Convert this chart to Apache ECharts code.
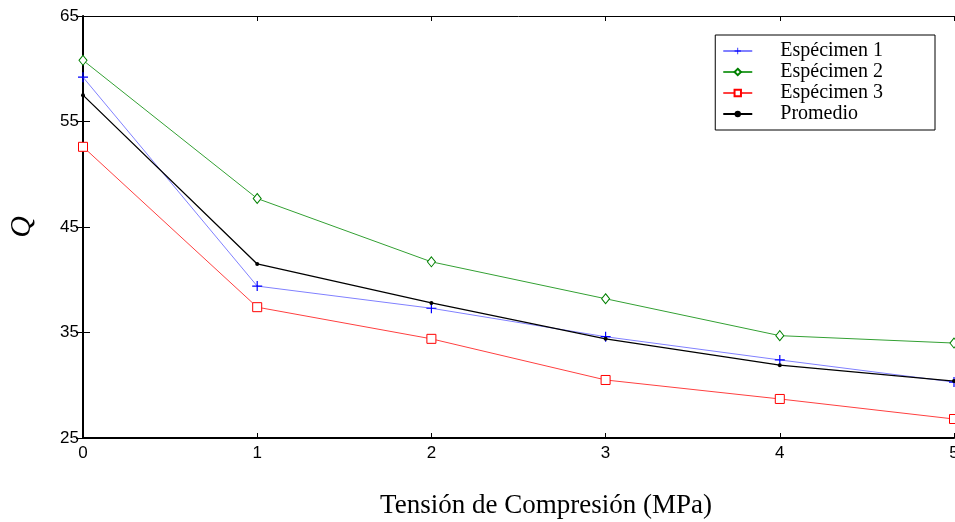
<!DOCTYPE html>
<html><head><meta charset="utf-8">
<script src="https://cdn.jsdelivr.net/npm/echarts@6/dist/echarts.min.js"></script>
<style>html,body{margin:0;padding:0;background:#fff}#c{width:955px;height:522px}</style>
</head><body><div id="c"></div>
<script>
const xValues = [0, 1, 2, 3, 4, 5];
const especimen1 = [59.2, 39.4, 37.3, 34.6, 32.4, 30.3];
const especimen2 = [60.8, 47.7, 41.7, 38.2, 34.7, 34.0];
const especimen3 = [52.6, 37.4, 34.4, 30.5, 28.7, 26.8];
const promedio = [57.5, 41.5, 37.8, 34.4, 31.9, 30.4];
const yTicks = [25, 35, 45, 55, 65];
const xTitle = 'Tensión de Compresión (MPa)';

const pair = arr => xValues.map((x, i) => [x, arr[i]]);
const plus = 'path://M-0.6,-5H0.6V-0.6H5V0.6H0.6V5H-0.6V0.6H-5V-0.6H-0.6Z';

const chart = echarts.init(document.getElementById('c'));
const axisLbl = {fontFamily: 'Liberation Sans, Arial', fontSize: 17, color: '#000'};
chart.setOption({
  animation: false,
  grid: {left: 83, right: 1, top: 16, bottom: 84, outerBoundsMode: 'none', containLabel: false},
  graphic: [{
    type: 'text', x: 546, y: 506,
    style: {text: xTitle, align: 'center', verticalAlign: 'middle',
            fontFamily: 'Liberation Serif, Times New Roman', fontSize: 27, fill: '#000'}
  }],
  legend: {
    right: 20, top: 35, orient: 'vertical', itemGap: 1,
    itemWidth: 29, itemHeight: 8,
    borderColor: '#000', borderWidth: 1, padding: [6, 52, 6, 7],
    backgroundColor: '#fff',
    textStyle: {fontFamily: 'Liberation Serif, Times New Roman', fontSize: 20, color: '#000', padding: [0, 0, 0, 23]},
    data: ['Espécimen 1', 'Espécimen 2', 'Espécimen 3', 'Promedio']
  },
  xAxis: [{
    type: 'value', min: 0, max: 5, interval: 1,
    axisLine: {lineStyle: {color: '#000', width: 2}},
    axisTick: {inside: true, length: 5, lineStyle: {color: '#000'}},
    axisLabel: Object.assign({margin: 7}, axisLbl),
    splitLine: {show: false}
  }, {
    type: 'value', min: 0, max: 5, interval: 1, position: 'top',
    axisLine: {show: true, lineStyle: {color: '#000', width: 1}},
    axisTick: {inside: true, length: 5, lineStyle: {color: '#000'}},
    axisLabel: {show: false}, splitLine: {show: false}
  }],
  yAxis: [{
    type: 'value', min: 25, max: 65, interval: 10,
    axisLine: {show: true, lineStyle: {color: '#000', width: 2}},
    axisTick: {inside: true, length: 7, lineStyle: {color: '#000'}},
    axisLabel: Object.assign({margin: 4, customValues: yTicks}, axisLbl),
    splitLine: {show: false},
    name: 'Q', nameLocation: 'middle', nameGap: 46, nameRotate: 90,
    nameTextStyle: {fontFamily: 'Liberation Serif, Times New Roman', fontSize: 30, fontStyle: 'italic', color: '#000'}
  }, {
    type: 'value', min: 25, max: 65, interval: 10, position: 'right',
    axisLine: {show: true, lineStyle: {color: '#000', width: 1}},
    axisTick: {inside: true, length: 7, lineStyle: {color: '#000'}},
    axisLabel: {show: false}, splitLine: {show: false}
  }],
  series: [
    {name: 'Espécimen 1', type: 'line', data: pair(especimen1), symbol: plus, symbolSize: 10,
     lineStyle: {color: '#8080ff', width: 1}, itemStyle: {color: '#0000ff'}},
    {name: 'Espécimen 2', type: 'line', data: pair(especimen2), symbol: 'diamond', symbolSize: [8, 10],
     lineStyle: {color: '#33a033', width: 1}, itemStyle: {color: '#fff', borderColor: '#008000', borderWidth: 1}},
    {name: 'Espécimen 3', type: 'line', data: pair(especimen3), symbol: 'rect', symbolSize: 9,
     lineStyle: {color: '#ff4040', width: 1}, itemStyle: {color: '#fff', borderColor: '#ff0000', borderWidth: 1}},
    {name: 'Promedio', type: 'line', data: pair(promedio), symbol: 'circle', symbolSize: 4,
     lineStyle: {color: '#000', width: 1.3}, itemStyle: {color: '#000'}}
  ]
});
</script></body></html>
